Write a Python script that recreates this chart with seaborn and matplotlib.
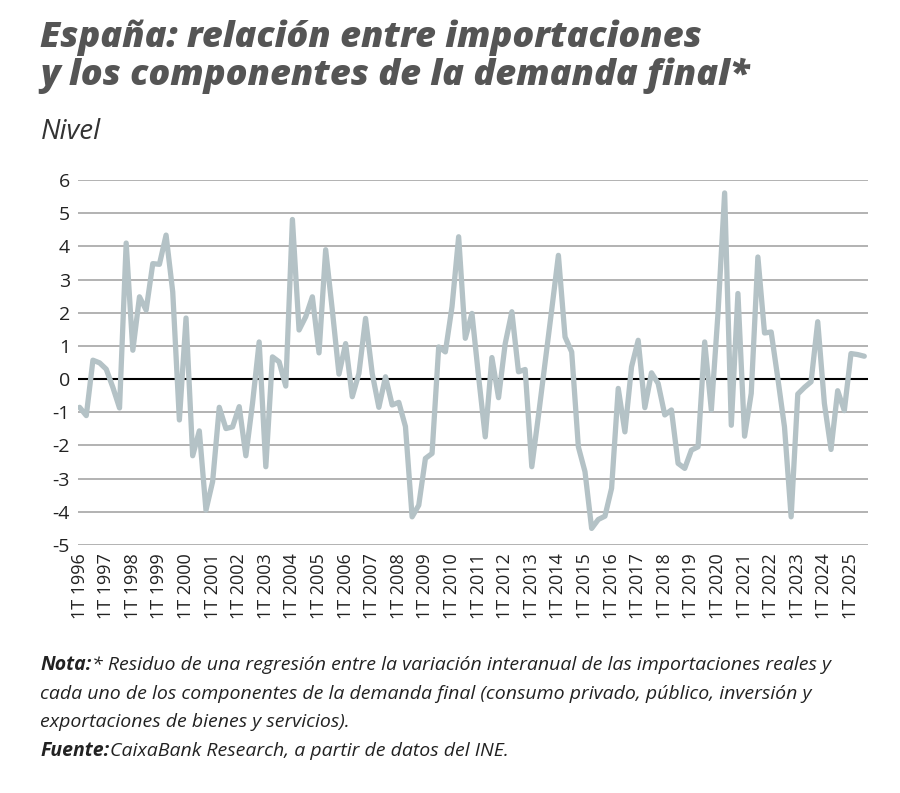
import matplotlib
matplotlib.use("Agg")
import matplotlib.pyplot as plt
import seaborn as sns
import pandas as pd

values = [-0.85, -1.1, 0.57, 0.49, 0.3, -0.25, -0.87, 4.1, 0.87, 2.48, 2.08, 3.48, 3.46, 4.34, 2.63, -1.23,
          1.84, -2.31, -1.56, -3.95, -3.09, -0.85, -1.49, -1.44, -0.83, -2.31, -0.73, 1.12, -2.64, 0.67, 0.52, -0.21,
          4.81, 1.48, 1.88, 2.48, 0.79, 3.9, 2.08, 0.15, 1.07, -0.53, 0.17, 1.83, 0.17, -0.85, 0.07, -0.78,
          -0.7, -1.43, -4.15, -3.8, -2.39, -2.24, 0.97, 0.82, 2.18, 4.29, 1.23, 1.98, 0.07, -1.74, 0.65, -0.56,
          1.07, 2.03, 0.22, 0.29, -2.64, -1.1, 0.5, 2.1, 3.73, 1.27, 0.82, -2.04, -2.79, -4.5, -4.23, -4.13,
          -3.29, -0.28, -1.59, 0.37, 1.17, -0.86, 0.19, -0.13, -1.08, -0.93, -2.54, -2.69, -2.14, -2.04, 1.12, -0.93,
          1.98, 5.61, -1.39, 2.58, -1.72, -0.43, 3.68, 1.39, 1.42, 0.02, -1.44, -4.15, -0.45, -0.25, -0.08, 1.73,
          -0.73, -2.12, -0.35, -0.95, 0.77, 0.74, 0.69]
years = list(range(1996, 2026))
tick_labels = [f"1T {y}" for y in years]
y_ticks = list(range(-5, 7))

df = pd.DataFrame({"t": range(len(values)), "v": values})

sns.set_style("white")
plt.rcParams['font.family'] = ['Open Sans', 'DejaVu Sans']

fig = plt.figure(figsize=(9, 7.93), dpi=100)
ax = fig.add_axes([0.087, 0.3127, 0.877, 0.4603])
for yt in y_ticks:
    if yt != 0:
        ax.axhline(yt, color="#a6a6a6", lw=1.2, zorder=0)
ax.axhline(0, color="black", lw=1.5, zorder=1)
sns.lineplot(data=df, x="t", y="v", ax=ax, color="#b4c2c6", lw=3.8, zorder=3)
ax.set_xlim(-0.2, len(values) - 0.5)
ax.set_ylim(-5, 6)
ax.set_yticks(y_ticks)
ax.set_yticklabels([str(v) for v in y_ticks], fontsize=14, color="#222")
ax.set_xticks([4 * i for i in range(len(years))])
ax.set_xticklabels(tick_labels, rotation=90, fontsize=13, color="#222")
ax.tick_params(axis="both", length=0, pad=6)
ax.set_xlabel("")
ax.set_ylabel("")
for s in ax.spines.values():
    s.set_visible(False)

fig.text(0.045, 0.975, "España: relación entre importaciones\ny los componentes de la demanda final*",
         fontsize=26, fontweight="heavy", style="italic", color="#555", va="top", linespacing=1.05)
fig.text(0.045, 0.833, "Nivel", fontsize=20, style="italic", color="#333", va="center")

note_y = 0.161
dy = 0.036
fs = 14
fig.text(0.045, note_y, "Nota:", fontsize=fs, fontweight="bold", style="italic", color="#222", va="center")
fig.text(0.102, note_y, "* Residuo de una regresión entre la variación interanual de las importaciones reales y",
         fontsize=fs, style="italic", color="#222", va="center")
fig.text(0.045, note_y - dy, "cada uno de los componentes de la demanda final (consumo privado, público, inversión y",
         fontsize=fs, style="italic", color="#222", va="center")
fig.text(0.045, note_y - 2 * dy, "exportaciones de bienes y servicios).", fontsize=fs, style="italic", color="#222", va="center")
fig.text(0.045, note_y - 3 * dy, "Fuente:", fontsize=fs, fontweight="bold", style="italic", color="#222", va="center")
fig.text(0.122, note_y - 3 * dy, "CaixaBank Research, a partir de datos del INE.", fontsize=fs, style="italic", color="#222", va="center")

fig.savefig("out.png", dpi=100)
